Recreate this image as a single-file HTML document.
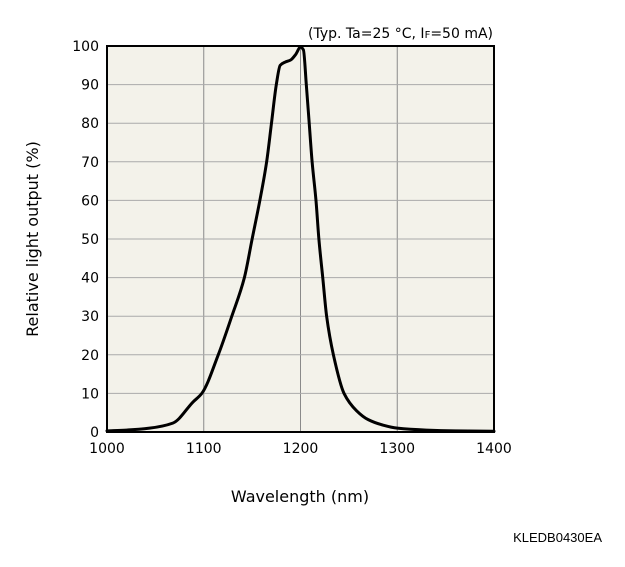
<!DOCTYPE html>
<html><head><meta charset="utf-8"><style>
body{margin:0;background:#fff;}
svg{display:block;font-family:"DejaVu Sans","Liberation Sans",sans-serif;}
</style></head><body>
<svg id="chart" width="625" height="567" viewBox="0 0 625 567">
<rect x="107" y="46" width="387" height="386" fill="#f3f2ea"/>
<g id="grid"></g>
<g id="ticks"></g>
<path id="curve" fill="none" stroke="#000" stroke-width="3" stroke-linejoin="round" stroke-linecap="round"/>
<rect x="107" y="46" width="387" height="386" fill="none" stroke="#000" stroke-width="2"/>
<text x="493" y="38" text-anchor="end" font-size="14">(Typ. Ta=25 °C, I<tspan font-size="10">F</tspan>=50 mA)</text>
<text x="300" y="502" text-anchor="middle" font-size="16">Wavelength (nm)</text>
<text transform="translate(38,239) rotate(-90)" text-anchor="middle" font-size="16">Relative light output (%)</text>
<text x="602" y="542" text-anchor="end" font-size="13" font-family="Liberation Sans, sans-serif">KLEDB0430EA</text>
</svg>
<script>
const xTicks=[1000,1100,1200,1300,1400];
const yTicks=[0,10,20,30,40,50,60,70,80,90,100];
const wavelengths=[1000,1020,1044,1068,1089,1098,1115,1129,1142,1150,1158,1165,1170,1175,1179,1184,1190,1195,1200,1203,1206,1209,1212,1216,1219,1223,1227,1234,1245,1258,1270,1285,1300,1330,1360,1400];
const outputs=[0.3,0.5,1.0,2.3,7.8,10,20,30,40,50,60,70,80,90,95,95.8,96.4,97.8,99.7,99,90,80,70,60,50,40,30,20,10,5.5,3.2,1.8,1.0,0.5,0.3,0.2];
const X=v=>107+(v-1000)*387/400;
const Y=v=>432-v*386/100;
const NS="http://www.w3.org/2000/svg";
const grid=document.getElementById('grid'),ticks=document.getElementById('ticks');
xTicks.forEach(t=>{
  const l=document.createElementNS(NS,'line');
  l.setAttribute('x1',X(t));l.setAttribute('x2',X(t));l.setAttribute('y1',46);l.setAttribute('y2',432);
  l.setAttribute('stroke','#8a8a8a');l.setAttribute('stroke-width','1');
  
  
  grid.appendChild(l);
  const tx=document.createElementNS(NS,'text');
  tx.setAttribute('x',X(t));tx.setAttribute('y',453);tx.setAttribute('text-anchor','middle');tx.setAttribute('font-size','14');
  tx.textContent=t;
  
  
  ticks.appendChild(tx);
});
yTicks.forEach(t=>{
  const l=document.createElementNS(NS,'line');
  l.setAttribute('x1',107);l.setAttribute('x2',494);l.setAttribute('y1',Y(t));l.setAttribute('y2',Y(t));
  l.setAttribute('stroke','#aaa');l.setAttribute('stroke-width','1');
  
  
  grid.appendChild(l);
  const tx=document.createElementNS(NS,'text');
  tx.setAttribute('x',99);tx.setAttribute('y',Y(t)+5);tx.setAttribute('text-anchor','end');tx.setAttribute('font-size','14');
  tx.textContent=t;
  
  
  ticks.appendChild(tx);
});
// monotone cubic (Fritsch-Carlson) interpolation through data
const n=wavelengths.length;
const dx=[],sl=[];
for(let i=0;i<n-1;i++){dx.push(wavelengths[i+1]-wavelengths[i]);sl.push((outputs[i+1]-outputs[i])/dx[i]);}
const m=[sl[0]];
for(let i=1;i<n-1;i++){
  if(sl[i-1]*sl[i]<=0)m.push(0);
  else{const w1=2*dx[i]+dx[i-1],w2=dx[i]+2*dx[i-1];m.push((w1+w2)/(w1/sl[i-1]+w2/sl[i]));}
}
m.push(sl[n-2]);
let d='M'+X(wavelengths[0])+','+Y(outputs[0]);
for(let i=0;i<n-1;i++){
  const h=dx[i];
  const x1=wavelengths[i]+h/3,y1=outputs[i]+m[i]*h/3;
  const x2=wavelengths[i+1]-h/3,y2=outputs[i+1]-m[i+1]*h/3;
  d+=` C${X(x1)},${Y(y1)} ${X(x2)},${Y(y2)} ${X(wavelengths[i+1])},${Y(outputs[i+1])}`;
}
document.getElementById('curve').setAttribute('d',d);
</script>
</body></html>
